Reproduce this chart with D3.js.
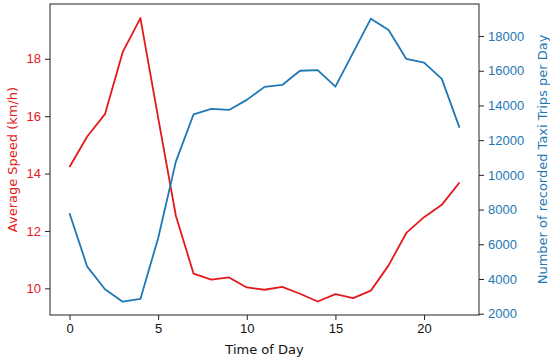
<!DOCTYPE html>
<html>
<head>
<meta charset="utf-8">
<script src="https://cdn.jsdelivr.net/npm/d3@7"></script>
<style>
  body { margin: 0; background: #fff; }
  svg { font-family: "DejaVu Sans", sans-serif; }
</style>
</head>
<body>
<div id="chart"></div>
<script>
// hourly averages
var hours = d3.range(0, 23);
var speed = [14.23, 15.29, 16.07, 18.23, 19.42, 15.95, 12.53, 10.51, 10.30, 10.38, 10.03, 9.95,
             10.05, 9.81, 9.54, 9.80, 9.66, 9.92, 10.80, 11.93, 12.48, 12.91, 13.69];
var trips = [7790, 4710, 3410, 2690, 2850, 6350, 10760, 13490, 13800, 13740, 14320, 15070,
             15180, 16000, 16030, 15080, 17040, 19000, 18350, 16680, 16470, 15530, 12720];
var xTicks = [0, 5, 10, 15, 20];
var speedTicks = [10, 12, 14, 16, 18];
var tripTicks = [2000, 4000, 6000, 8000, 10000, 12000, 14000, 16000, 18000];

var width = 550, height = 360;
// plot box (note: "top" is a reserved window property)
var pLeft = 50, pRight = 479, pTop = 4, pBottom = 315;
var red = "#e3191c", blue = "#1f77b4";

var svg = d3.select("#chart").append("svg")
    .attr("width", width)
    .attr("height", height);

var x = d3.scaleLinear().domain([-1.1, 23.1]).range([pLeft, pRight]);
var yL = d3.scaleLinear().domain([9.07, 19.91]).range([pBottom, pTop]);
var yR = d3.scaleLinear().domain([1925, 19845]).range([pBottom, pTop]);

// lines
var speedLine = d3.line().x(function(d, i) { return x(hours[i]); }).y(function(d) { return yL(d); });
var tripLine = d3.line().x(function(d, i) { return x(hours[i]); }).y(function(d) { return yR(d); });

svg.append("path").datum(speed)
    .attr("d", speedLine)
    .attr("fill", "none").attr("stroke", red).attr("stroke-width", 1.8)
    .attr("stroke-linejoin", "round");

svg.append("path").datum(trips)
    .attr("d", tripLine)
    .attr("fill", "none").attr("stroke", blue).attr("stroke-width", 1.8)
    .attr("stroke-linejoin", "round");

// frame
svg.append("rect")
    .attr("x", pLeft).attr("y", pTop)
    .attr("width", pRight - pLeft).attr("height", pBottom - pTop)
    .attr("fill", "none").attr("stroke", "#222").attr("stroke-width", 1);

// axes
function styleAxis(g, color) {
    g.select(".domain").remove();
    g.selectAll(".tick line").attr("stroke", "#222");
    g.selectAll(".tick text").attr("fill", color).style("font-size", "13px");
}

svg.append("g")
    .attr("transform", "translate(0," + pBottom + ")")
    .call(d3.axisBottom(x).tickValues(xTicks).tickSize(5).tickPadding(4))
    .call(function(g) { styleAxis(g, "#111"); });

svg.append("g")
    .attr("transform", "translate(" + pLeft + ",0)")
    .call(d3.axisLeft(yL).tickValues(speedTicks).tickSize(5).tickPadding(4))
    .call(function(g) { styleAxis(g, red); });

svg.append("g")
    .attr("transform", "translate(" + pRight + ",0)")
    .call(d3.axisRight(yR).tickValues(tripTicks).tickSize(5).tickPadding(4).tickFormat(d3.format("d")))
    .call(function(g) { styleAxis(g, blue); });

// labels
svg.append("text")
    .attr("x", (pLeft + pRight) / 2).attr("y", 354)
    .attr("text-anchor", "middle")
    .attr("fill", "#111").style("font-size", "13px")
    .text("Time of Day");

svg.append("text")
    .attr("transform", "translate(17," + (pTop + pBottom) / 2 + ") rotate(-90)")
    .attr("text-anchor", "middle")
    .attr("fill", red).style("font-size", "13px")
    .text("Average Speed (km/h)");

svg.append("text")
    .attr("transform", "translate(547," + (pTop + pBottom) / 2 + ") rotate(-90)")
    .attr("text-anchor", "middle")
    .attr("fill", blue).style("font-size", "13px")
    .text("Number of recorded Taxi Trips per Day");
</script>
</body>
</html>
